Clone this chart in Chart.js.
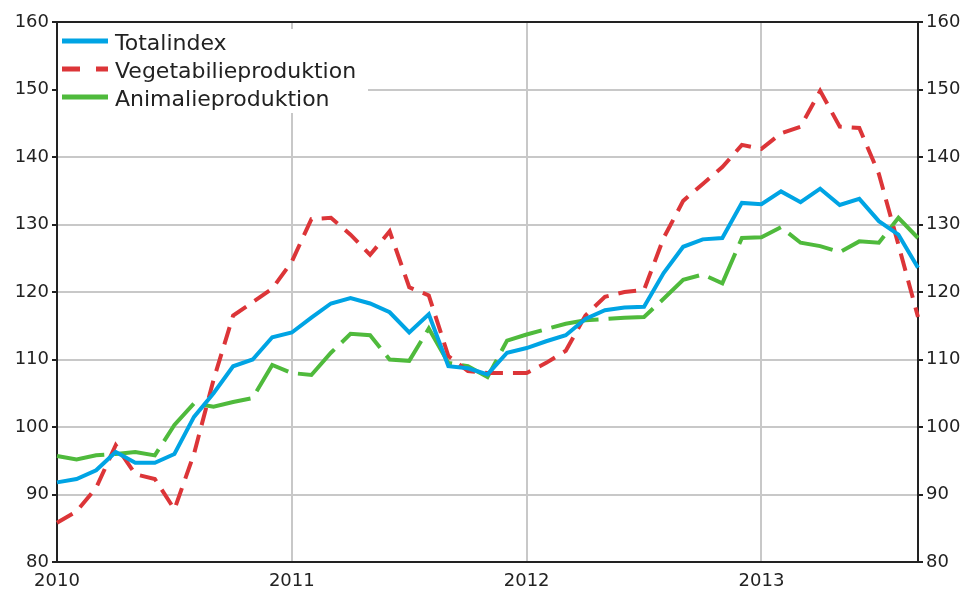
<!DOCTYPE html>
<html>
<head>
<meta charset="utf-8">
<script src="https://cdn.jsdelivr.net/npm/chart.js@4/dist/chart.umd.min.js"></script>
<style>
  html, body { margin: 0; padding: 0; background: #fff; }
  #wrap { width: 969px; height: 592px; }
</style>
</head>
<body>
<div id="wrap"><canvas id="chart" width="969" height="592"></canvas></div>
<script>
const months = [
  '2010M01','2010M02','2010M03','2010M04','2010M05','2010M06','2010M07','2010M08','2010M09','2010M10','2010M11','2010M12',
  '2011M01','2011M02','2011M03','2011M04','2011M05','2011M06','2011M07','2011M08','2011M09','2011M10','2011M11','2011M12',
  '2012M01','2012M02','2012M03','2012M04','2012M05','2012M06','2012M07','2012M08','2012M09','2012M10','2012M11','2012M12',
  '2013M01','2013M02','2013M03','2013M04','2013M05','2013M06','2013M07','2013M08','2013M09'
];

const totalindex = [
  91.8, 92.3, 93.6, 96.3, 94.7, 94.7, 96.0, 101.5, 105.0, 109.0, 110.0, 113.3,
  114.0, 116.2, 118.3, 119.1, 118.3, 117.0, 114.0, 116.7, 109.0, 108.7, 107.8, 111.0,
  111.7, 112.7, 113.6, 116.0, 117.3, 117.7, 117.8, 122.8, 126.7, 127.8, 128.0, 133.2,
  133.0, 134.9, 133.3, 135.3, 132.9, 133.8, 130.5, 128.5, 123.6
];

const vegetabilie = [
  85.8, 87.5, 91.0, 97.3, 93.0, 92.3, 87.8, 96.0, 107.0, 116.5, 118.5, 120.5,
  124.5, 130.8, 131.0, 128.5, 125.5, 129.0, 120.7, 119.5, 110.5, 108.3, 108.0, 108.0,
  108.0, 109.5, 111.3, 116.5, 119.3, 120.0, 120.3, 128.0, 133.5, 136.0, 138.5, 141.8,
  141.2, 143.5, 144.5, 149.8, 144.5, 144.3, 137.5, 127.0, 116.3
];

const animalie = [
  95.7, 95.2, 95.8, 96.0, 96.3, 95.8, 100.3, 103.5, 103.0, 103.7, 104.3, 109.2,
  108.0, 107.7, 111.0, 113.8, 113.6, 110.0, 109.8, 114.6, 109.5, 109.0, 107.4, 112.8,
  113.7, 114.5, 115.3, 115.8, 116.0, 116.2, 116.3, 119.0, 121.8, 122.6, 121.3, 128.0,
  128.1, 129.6, 127.3, 126.8, 125.9, 127.5, 127.3, 131.0, 128.0
];

const yMin = 80, yMax = 160, yStep = 10;

const FONT = 'DejaVu Sans';
const TEXT = '#222';
const GRID = '#c8c8c8';

// legend drawn by hand: white box over the grid, short line samples, names
const boxLegend = {
  id: 'boxLegend',
  beforeDatasetsDraw(chart) {
    const ctx = chart.ctx;
    const a = chart.chartArea;
    ctx.save();
    ctx.fillStyle = '#fff';
    ctx.fillRect(a.left + 1, a.top + 7, 310, 84);
    ctx.restore();
  },
  afterDatasetsDraw(chart) {
    const ctx = chart.ctx;
    const a = chart.chartArea;
    ctx.save();
    chart.data.datasets.forEach((ds, i) => {
      const y = a.top + 19 + i * 28;
      ctx.strokeStyle = ds.borderColor;
      ctx.lineWidth = 5;
      ctx.setLineDash(ds.legendDash || []);
      ctx.beginPath();
      ctx.moveTo(a.left + 5, y);
      ctx.lineTo(a.left + 51, y);
      ctx.stroke();
      ctx.setLineDash([]);
      ctx.fillStyle = TEXT;
      ctx.font = '22px "' + FONT + '"';
      ctx.textBaseline = 'middle';
      ctx.fillText(ds.label, a.left + 58, y + 3);
    });
    ctx.restore();
  }
};

new Chart(document.getElementById('chart').getContext('2d'), {
  type: 'line',
  data: {
    labels: months,
    datasets: [{
      label: 'Totalindex',
      data: totalindex,
      borderColor: '#00a4e4',
      borderWidth: 4,
      pointRadius: 0,
      tension: 0
    }, {
      label: 'Vegetabilieproduktion',
      data: vegetabilie,
      borderColor: '#dc3538',
      borderWidth: 4,
      borderDash: [18, 10],
      legendDash: [18, 16],
      pointRadius: 0,
      tension: 0
    }, {
      label: 'Animalieproduktion',
      data: animalie,
      borderColor: '#4fba3c',
      borderWidth: 4,
      borderDash: [48, 10],
      pointRadius: 0,
      tension: 0
    }]
  },
  options: {
    responsive: false,
    animation: false,
    layout: { padding: { top: 22, left: 0, right: 0, bottom: 0 } },
    plugins: {
      tooltip: { enabled: false },
      legend: { display: false }
    },
    scales: {
      x: {
        type: 'category',
        offset: false,
        grid: {
          color: ctx => (ctx.index % 12 === 0 && ctx.index > 0) ? GRID : 'transparent',
          lineWidth: 2,
          drawTicks: false
        },
        border: { color: '#222', width: 2 },
        ticks: {
          autoSkip: false,
          maxRotation: 0,
          padding: 9,
          color: TEXT,
          font: { family: FONT, size: 18 },
          callback: (v, i) => i % 12 === 0 ? months[i].slice(0, 4) : ''
        },
        afterFit: s => { s.height = 30; }
      },
      y: {
        position: 'left',
        min: yMin, max: yMax,
        ticks: {
          stepSize: yStep,
          padding: 3,
          color: TEXT,
          font: { family: FONT, size: 18 }
        },
        grid: {
          color: ctx => ctx.tick && ctx.tick.value === yMax ? '#222' : GRID,
          lineWidth: 2,
          tickLength: 5,
          tickColor: '#222'
        },
        border: { color: '#222', width: 2 },
        afterFit: s => { s.width = 57; }
      },
      y2: {
        position: 'right',
        min: yMin, max: yMax,
        ticks: {
          stepSize: yStep,
          padding: 3,
          color: TEXT,
          font: { family: FONT, size: 18 }
        },
        grid: {
          drawOnChartArea: false,
          tickLength: 5,
          tickColor: '#222',
          lineWidth: 2
        },
        border: { color: '#222', width: 2 },
        afterFit: s => { s.width = 51; }
      }
    }
  },
  plugins: [boxLegend]
});
</script>
</body>
</html>
